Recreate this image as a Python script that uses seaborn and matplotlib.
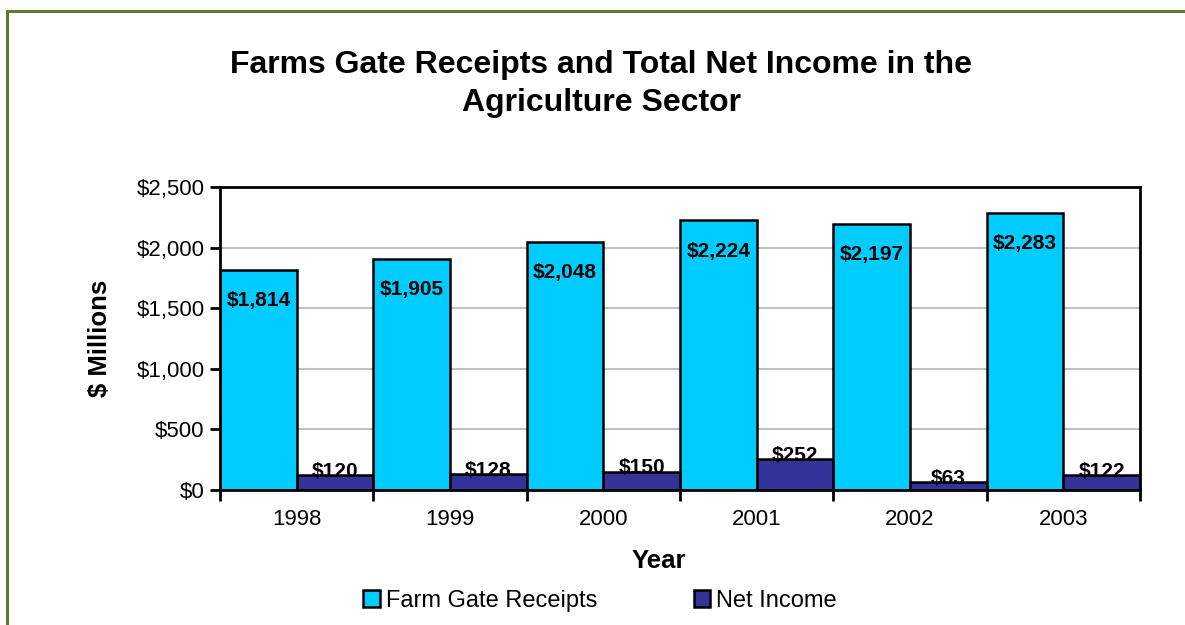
import matplotlib
matplotlib.use("Agg")
import matplotlib.pyplot as plt
from matplotlib.patches import Patch
from matplotlib.lines import Line2D
from matplotlib.ticker import FuncFormatter, FixedLocator
import seaborn as sns
import pandas as pd

years = ["1998", "1999", "2000", "2001", "2002", "2003"]
farm_gate_receipts = [1814, 1905, 2048, 2224, 2197, 2283]
net_income = [120, 128, 150, 252, 63, 122]
series_names = ["Farm Gate Receipts", "Net Income"]
series_colors = ["#00CCFF", "#333399"]

df = pd.DataFrame({
    "Year": years * 2,
    "Value": farm_gate_receipts + net_income,
    "Series": [series_names[0]] * len(years) + [series_names[1]] * len(years),
})

sns.set_theme(style="white")
plt.rcParams["font.family"] = ["Liberation Sans", "DejaVu Sans"]
plt.rcParams["text.color"] = "black"
plt.rcParams["axes.labelcolor"] = "black"
plt.rcParams["xtick.color"] = "black"
plt.rcParams["ytick.color"] = "black"

fig = plt.figure(figsize=(11.85, 6.25), dpi=100)
ax = fig.add_axes([220 / 1185, 1 - 490 / 625, 920 / 1185, 303 / 625])

sns.barplot(
    data=df, x="Year", y="Value", hue="Series", order=years,
    hue_order=series_names, palette=series_colors, width=1.0, saturation=1,
    edgecolor="black", linewidth=1.8, ax=ax, legend=False,
)

ax.set_xlim(-0.5, len(years) - 0.5)
ax.set_ylim(0, 2500)
ax.set_yticks([0, 500, 1000, 1500, 2000, 2500])
ax.yaxis.set_major_formatter(FuncFormatter(lambda v, p: f"${v:,.0f}"))
ax.yaxis.grid(True, color="#c0c0c0", linewidth=1.5)
ax.set_axisbelow(True)

# tick marks sit on category boundaries, labels at category centres
ax.xaxis.set_minor_locator(FixedLocator([i - 0.5 for i in range(len(years) + 1)]))
ax.tick_params(axis="x", which="major", length=0, pad=14, labelsize=16, colors="black")
ax.tick_params(axis="x", which="minor", length=8, width=2, color="black", bottom=True)
ax.tick_params(axis="y", which="major", length=7, width=2, color="black", left=True,
               labelsize=16, pad=4, colors="black")

for s in ax.spines.values():
    s.set_visible(True)
    s.set_color("black")
    s.set_linewidth(2)

ax.set_xlabel("")
ax.set_ylabel("")

# value labels
for i, v in enumerate(farm_gate_receipts):
    ax.annotate(f"${v:,}", xy=(i - 0.25, v), xytext=(0, -22), textcoords="offset points",
                ha="center", va="center", fontsize=15, fontweight="bold", color="black")
for i, v in enumerate(net_income):
    ax.annotate(f"${v:,}", xy=(i + 0.25, v), xytext=(0, 3), textcoords="offset points",
                ha="center", va="center", fontsize=15, fontweight="bold", color="black")

fig.text(601 / 1185, 1 - 84 / 625,
         "Farms Gate Receipts and Total Net Income in the\nAgriculture Sector",
         ha="center", va="center", fontsize=23, fontweight="bold", linespacing=1.38,
         color="black")
fig.text(100 / 1185, 1 - 338 / 625, "$ Millions", rotation=90, ha="center", va="center",
         fontsize=18.5, fontweight="bold", color="black")
fig.text(659 / 1185, 1 - 561 / 625, "Year", ha="center", va="center",
         fontsize=18.5, fontweight="bold", color="black")

handles = [Patch(facecolor=c, edgecolor="black", linewidth=1.8) for c in series_colors]
fig.legend(handles, series_names, loc="center", bbox_to_anchor=(600 / 1185, 1 - 601 / 625),
           ncol=2, frameon=False, fontsize=17, handlelength=0.7, handleheight=0.7,
           handletextpad=0.25, columnspacing=4.1, borderaxespad=0, labelcolor="black")

# outer frame (left and top edges)
border = "#5B7A2B"
fig.add_artist(Line2D([7 / 1185, 7 / 1185], [0, 1 - 11 / 625], transform=fig.transFigure,
                      color=border, linewidth=2.2))
fig.add_artist(Line2D([7 / 1185, 1], [1 - 11 / 625, 1 - 11 / 625], transform=fig.transFigure,
                      color=border, linewidth=2.2))

fig.savefig("out.png", dpi=100, facecolor="white")
